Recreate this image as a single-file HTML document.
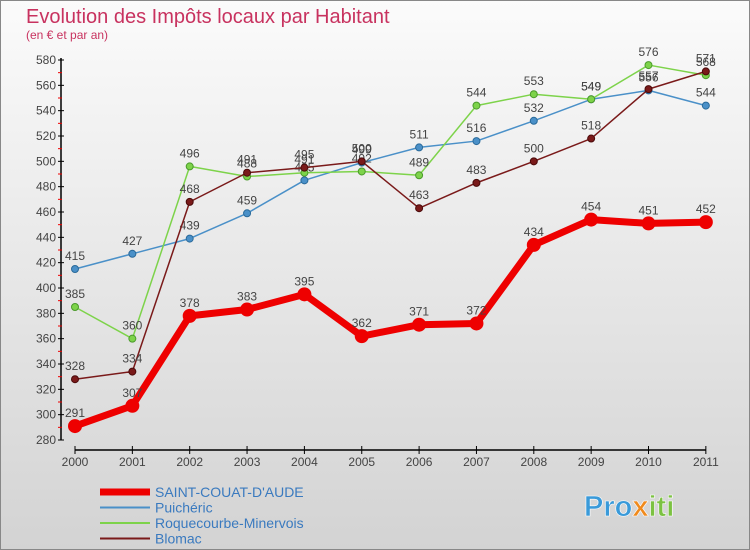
<!DOCTYPE html>
<html><head><meta charset="utf-8"><style>
body{margin:0}
#c{width:750px;height:550px;position:relative;overflow:hidden;background:linear-gradient(#fbfbfb,#d3d3d3);font-family:"Liberation Sans",sans-serif}
svg text{font-family:"Liberation Sans",sans-serif}
</style></head><body>
<div id="c">
<svg id="s" width="750" height="550">
<rect x="0.5" y="0.5" width="749" height="549" fill="none" stroke="#888"/>
<text x="26" y="23" font-size="20" fill="#c8325f">Evolution des Impôts locaux par Habitant</text>
<text x="26" y="39" font-size="12" fill="#c8325f">(en € et par an)</text>
<g id="g"></g>
<text x="584" y="516" font-size="29" font-weight="bold" fill="#3a9ad9" stroke="#fff" stroke-width="0.6">Pro<tspan fill="#f08a1c">x</tspan><tspan fill="#7cc242">iti</tspan></text>
</svg>
</div>
<script>
const years=[2000,2001,2002,2003,2004,2005,2006,2007,2008,2009,2010,2011];
const yTicks=[280,300,320,340,360,380,400,420,440,460,480,500,520,540,560,580];
const saint=[291,307,378,383,395,362,371,372,434,454,451,452];
const puicheric=[415,427,439,459,485,499,511,516,532,549,556,544];
const roquecourbe=[385,360,496,488,491,492,489,544,553,549,576,568];
const blomac=[328,334,468,491,495,500,463,483,500,518,557,571];
const NS="http://www.w3.org/2000/svg";
const g=document.getElementById('g');
const X=i=>75+i*57.35;
const Y=v=>440-(v-280)*380/300;
function el(t,a){const e=document.createElementNS(NS,t);for(const k in a)e.setAttribute(k,a[k]);g.appendChild(e);return e;}
let ax=el('line',{x1:61,y1:58,x2:61,y2:440,stroke:'#000','stroke-width':1.5});


let axx=el('line',{x1:X(0),y1:450,x2:X(11),y2:450,stroke:'#000','stroke-width':1.5});


yTicks.forEach((v,i)=>{
 el('line',{x1:58,y1:Y(v),x2:64,y2:Y(v),stroke:'#000'});
 if(i<yTicks.length-1){el('line',{x1:58,y1:Y(v+10),x2:62,y2:Y(v+10),stroke:'#e00'});}
 const t=el('text',{x:56,y:Y(v)+4,'font-size':12,fill:'#444','text-anchor':'end'});
 t.textContent=v;
 
 
});
years.forEach((y,i)=>{
 el('line',{x1:X(i),y1:446,x2:X(i),y2:454,stroke:'#000'});
 const t=el('text',{x:X(i),y:466,'font-size':12,fill:'#444','text-anchor':'middle'});
 t.textContent=y;
 
 
});
function series(d,col,w,r,name,lc){
 const p=el('polyline',{points:d.map((v,i)=>X(i)+','+Y(v)).join(' '),fill:'none',stroke:col,'stroke-width':w,'stroke-linejoin':'round'});
 
 
 d.forEach((v,i)=>{
  const c=el('circle',{cx:X(i),cy:Y(v),r:r,fill:col,stroke:lc,'stroke-width':1});
  
  
  const t=el('text',{x:X(i),y:Y(v)-9,'font-size':12,fill:'#444','text-anchor':'middle'});
  t.textContent=v;
  
  
 });
}
series(puicheric,'#4a90c8',1.5,3.5,'puicheric','#2a6a9a');
series(roquecourbe,'#7dd34a',1.5,3.5,'roquecourbe','#4a9a2a');
series(blomac,'#7a1a1a',1.5,3.5,'blomac','#4a0a0a');
series(saint,'#ee0000',7,6.5,'saint-couat','#ee0000');
const leg=[['SAINT-COUAT-D\'AUDE','#ee0000',7],['Puichéric','#4a90c8',2],['Roquecourbe-Minervois','#7dd34a',2],['Blomac','#7a1a1a',2]];
leg.forEach((l,i)=>{
 const y=492+i*15.5;
 const ln=el('line',{x1:100,y1:y,x2:150,y2:y,stroke:l[1],'stroke-width':l[2]});
 
 
 const t=el('text',{x:155,y:y+5,'font-size':14,fill:'#3a7abf'});
 t.textContent=l[0];
 
 
});
</script>
</body></html>
